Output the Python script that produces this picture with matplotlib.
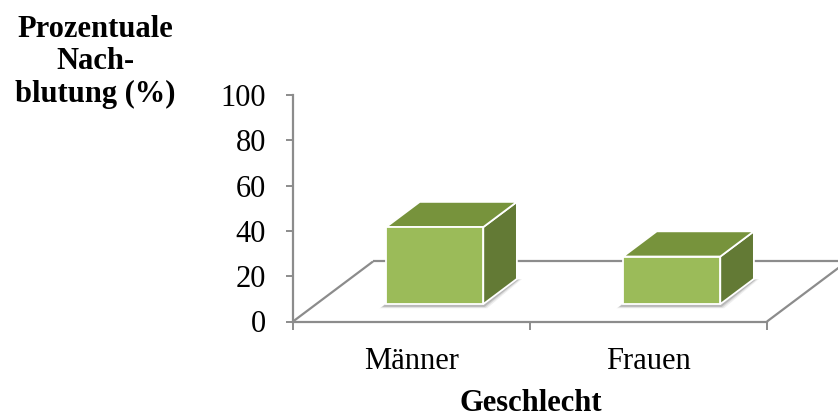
import matplotlib
matplotlib.use("Agg")
import matplotlib.pyplot as plt
from matplotlib.patches import Polygon

# ---- data ----
categories = ["Männer", "Frauen"]
values = [34.0, 21.0]
yticks = [0, 20, 40, 60, 80, 100]
y_label = "Prozentuale\nNach-\nblutung (%)"
x_label = "Geschlecht"

# ---- style / geometry ----
W, H = 838, 418
DX = 0.3376   # floor depth shift, category units
DZ = 26.5     # floor depth shift, value units
HALF_W = 0.205
D0, D1 = 0.29, 0.71
FRONT = "#9BBB59"
TOP = "#77933C"
SIDE = "#637A35"
GRID = "#8C8C8C"
FS = 22

plt.rcParams['font.family'] = ['Liberation Serif', 'DejaVu Serif']


def proj(x, d, z):
    return (x + d * DX, z + d * DZ)


fig = plt.figure(figsize=(W / 100, H / 100), dpi=100)
ax = fig.add_axes([293 / W, (H - 321.5) / H, 474 / W, 226.5 / H])
ax.patch.set_visible(False)
n = len(categories)
ax.set_xlim(0, n)
ax.set_ylim(0, 100)

# floor outline (front edge = bottom spine)
floor = [
    [proj(0, 0, 0), proj(0, 1, 0)],
    [proj(0, 1, 0), proj(n, 1, 0)],
    [proj(n, 0, 0), proj(n, 1, 0)],
]
for seg in floor:
    ax.plot([seg[0][0], seg[1][0]], [seg[0][1], seg[1][1]], color=GRID,
            lw=1.6, clip_on=False, zorder=1, solid_capstyle='butt')

# bars
for i, v in enumerate(values):
    c = i + 0.5
    xl, xr = c - HALF_W, c + HALF_W
    # soft shadow
    for e, a in [(0.016, 0.08), (0.010, 0.12), (0.005, 0.18)]:
        sh = [proj(xl - 0.012 - e, D0, -0.9 - e * 60),
              proj(xr + e, D0, -0.9 - e * 60),
              proj(xr + e, D1 + e, -0.5),
              proj(xl, D1, 0)]
        ax.add_patch(Polygon(sh, closed=True, facecolor="#303030", alpha=a,
                             edgecolor='none', zorder=2, clip_on=False))
    front = [proj(xl, D0, 0), proj(xr, D0, 0), proj(xr, D0, v), proj(xl, D0, v)]
    top = [proj(xl, D0, v), proj(xr, D0, v), proj(xr, D1, v), proj(xl, D1, v)]
    side = [proj(xr, D0, 0), proj(xr, D1, 0), proj(xr, D1, v), proj(xr, D0, v)]
    for poly, col in [(side, SIDE), (top, TOP), (front, FRONT)]:
        ax.add_patch(Polygon(poly, closed=True, facecolor=col, edgecolor='white',
                             lw=1.3, joinstyle='miter', zorder=3, clip_on=False))

# spines / ticks
for s in ['top', 'right']:
    ax.spines[s].set_visible(False)
for s in ['left', 'bottom']:
    ax.spines[s].set_color(GRID)
    ax.spines[s].set_linewidth(1.6)
    ax.spines[s].set_zorder(1)

ax.set_yticks(yticks)
ax.set_yticklabels([str(t) for t in yticks])
ax.tick_params(axis='y', direction='out', length=5, width=1.4, color=GRID,
               pad=14.4, labelsize=FS, labelcolor='black')

ax.set_xticks(range(n + 1))
ax.set_xticklabels([])
ax.set_xticks([i + 0.5 for i in range(n)], minor=True)
ax.set_xticklabels(categories, minor=True)
ax.tick_params(axis='x', which='major', direction='out', length=6, width=1.4,
               color=GRID)
ax.tick_params(axis='x', which='minor', length=0, pad=18.5, labelsize=FS,
               labelcolor='black')

fig.text(531 / W, (H - 411) / H, x_label, ha='center', va='baseline',
         fontsize=FS, fontweight='bold')
fig.text(95 / W, 1 - 15 / H, y_label, ha='center', va='top', fontsize=FS,
         fontweight='bold', linespacing=1.15, multialignment='center')

fig.savefig("out.png", dpi=100)
